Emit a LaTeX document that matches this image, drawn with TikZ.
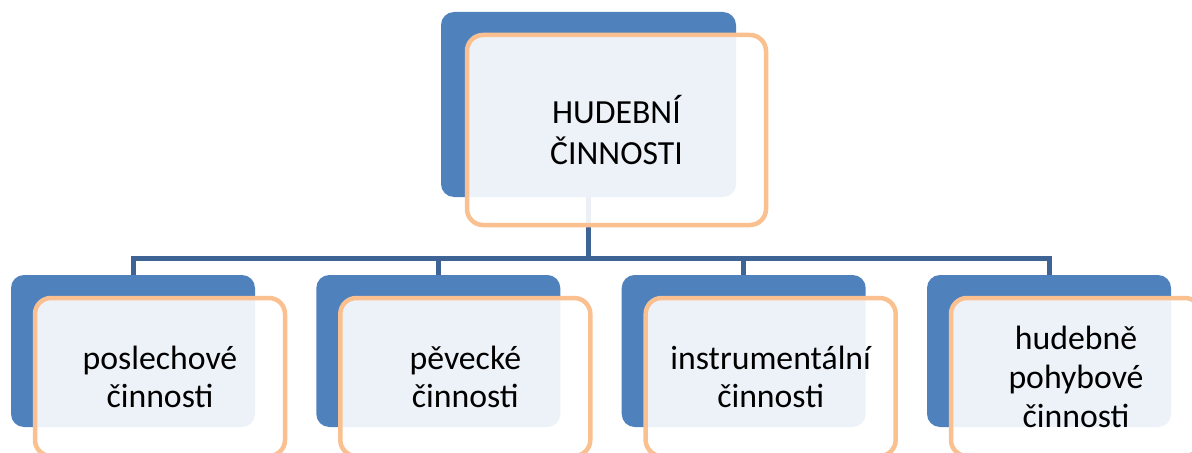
\documentclass[tikz,border=0pt]{standalone}
\usepackage{fontspec}
\setmainfont{Carlito}
\usetikzlibrary{backgrounds}
\definecolor{boxblue}{RGB}{79,129,189}
\definecolor{linkblue}{RGB}{62,100,149}
\definecolor{rimorange}{RGB}{250,192,144}
\def\pxl{0.025cm}
\tikzset{
  backbox/.style={fill=boxblue, rounded corners=13*\pxl, inner sep=0pt},
  frontbox/.style={draw=rimorange, line width=4.5*\pxl, fill=white, fill opacity=0.9, text opacity=1,
    rounded corners=16*\pxl, align=center, font=\fontsize{24}{27.5}\selectfont},
  link/.style={draw=linkblue, line width=5*\pxl}
}
\begin{document}
\begin{tikzpicture}[x=\pxl, y=-\pxl]
  % Fix the canvas
  \useasboundingbox (0,0) rectangle (1192,453);
  % Top box
  \node[backbox, minimum width=295*\pxl, minimum height=185*\pxl] (topback) at (588.5,104.5) {};
  \node[frontbox, minimum width=299*\pxl, minimum height=190*\pxl, font=\fontsize{24}{28.5}\selectfont]
    (top) at (616.5,130) {HUDEBNÍ\\ČINNOSTI};
  % Bottom boxes
  \foreach \i/\xpos/\txt in {1/133/{poslechové\\činnosti}, 2/438.3/{pěvecké\\činnosti},
      3/743.7/{instrumentální\\činnosti}, 4/1049/{hudebně\\pohybové\\činnosti}} {
    \node[backbox, minimum width=244*\pxl, minimum height=152*\pxl] (kidback\i) at (\xpos,351) {};
    \node[frontbox, minimum width=250*\pxl, minimum height=158*\pxl] (kid\i) at (\xpos+27,377) {\txt};
  }
  % Connectors behind the boxes
  \coordinate (bar) at (588.5,258);
  \begin{scope}[on background layer]
    \draw[link] (topback.south) -- (bar);
    \foreach \i in {1,...,4}
      \draw[link] (bar) -| (kidback\i.north);
  \end{scope}
\end{tikzpicture}
\end{document}
